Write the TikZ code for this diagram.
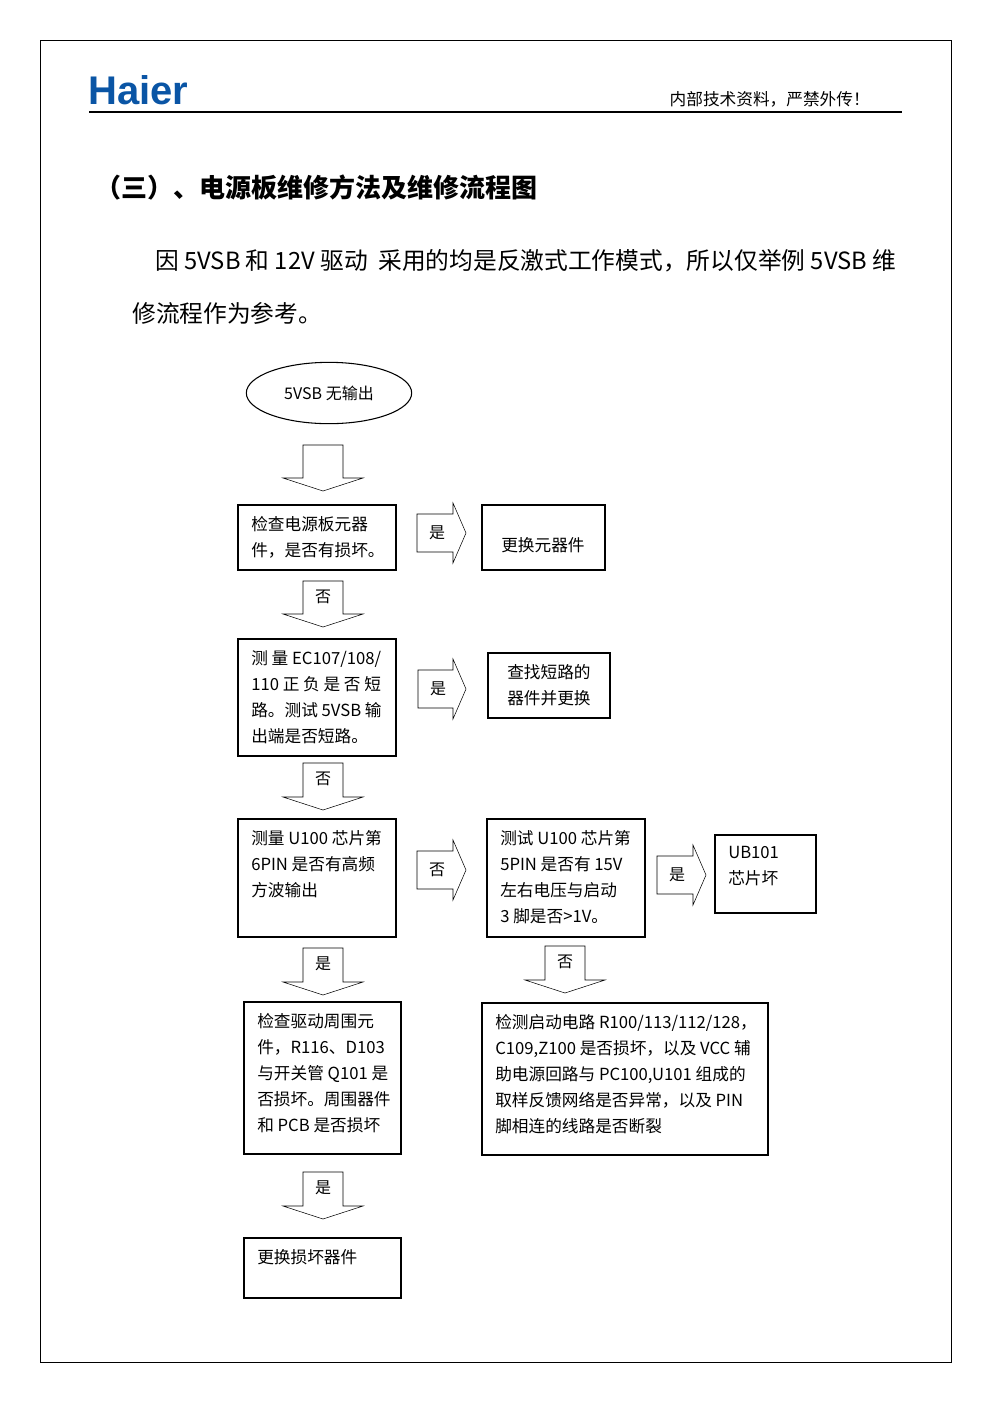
\documentclass[tikz,border=0pt]{standalone}
\usepackage{fontspec}
\setmainfont{Noto Sans CJK SC}
\newfontfamily\logofont{Liberation Sans}
\usetikzlibrary{shapes.geometric}
\definecolor{haierblue}{RGB}{10,85,165}
\tikzset{
  box/.style={draw, thick, anchor=north west, inner sep=0pt},
  txt/.style={anchor=north west, align=left, font=\fontsize{12.5}{19.5}\selectfont, inner sep=0pt},
  fat/.style={draw, fill=white},
  lab/.style={font=\fontsize{12}{14}\selectfont, inner sep=0pt}
}
% fat down arrow: name, x centre, y top, y bottom, label
\newcommand\fatdown[5]{%
  \draw[fat] (#2-20,#3) -- (#2+20,#3) -- (#2+20,#4-13) -- (#2+40,#4-13) -- (#2,#4)
    -- (#2-40,#4-13) -- (#2-20,#4-13) -- cycle;
  \node[lab] (#1) at (#2,#3+16) {#5};}
% fat right arrow: name, y centre, x left, x right, label
\newcommand\fatright[5]{%
  \draw[fat] (#3,#2-19) -- (#4-13,#2-19) -- (#4-13,#2-30) -- (#4,#2) -- (#4-13,#2+30)
    -- (#4-13,#2+19) -- (#3,#2+19) -- cycle;
  \node[lab] (#1) at (#3+20,#2) {#5};}
\begin{document}
\begin{tikzpicture}[x=0.75pt,y=-0.75pt]
\useasboundingbox (0,0) rectangle (993,1404);
% page frame and header
\draw (40,40) rectangle (951,1362);
\node[anchor=west, text=haierblue, font=\logofont\bfseries\fontsize{30}{30}\selectfont, inner sep=0pt] (logo) at (88,90) {Haier};
\draw[thick] (89,112) -- (902,112);
\node[anchor=east, font=\fontsize{12.5}{13}\selectfont, inner sep=0pt] (hdr) at (870,99) {内部技术资料，严禁外传！};
\node[anchor=west, font=\bfseries\fontsize{19.5}{22}\selectfont, inner sep=0pt] (title) at (95,187) {（三）、电源板维修方法及维修流程图};
\node[anchor=west, font=\fontsize{17.8}{20}\selectfont, inner sep=0pt] (p1) at (155,261) {因 5VSB 和 12V 驱动 \ 采用的均是反激式工作模式，所以仅举例 5VSB 维};
\node[anchor=west, font=\fontsize{17.8}{20}\selectfont, inner sep=0pt] (p2) at (132,313) {修流程作为参考。};

% start
\node[draw, thick, ellipse, minimum width=124pt, minimum height=46pt, font=\fontsize{12}{14}\selectfont] (start) at (329,393) {5VSB 无输出};
\fatdown{a0}{323}{445}{491}{}

% left column
\draw[box] (238,505) rectangle (396,570);
\node[txt] (b1) at (251,516) {检查电源板元器\\件，是否有损坏。};
\fatdown{a1}{323}{581}{627}{否}
\draw[box] (238,639) rectangle (396,756);
\node[txt] (b2) at (251,650) {测 量 EC107/108/\\110 正 负 是 否 短\\路。测试 5VSB 输\\出端是否短路。};
\fatdown{a2}{323}{763}{810}{否}
\draw[box] (238,819) rectangle (396,937);
\node[txt] (b3) at (251,830) {测量 U100 芯片第\\6PIN 是否有高频\\方波输出};
\fatdown{a3}{323}{948}{995}{是}
\draw[box] (244,1002) rectangle (401,1154);
\node[txt] (b4) at (257,1013) {检查驱动周围元\\件，R116、D103\\与开关管 Q101 是\\否损坏。周围器件\\和 PCB 是否损坏};
\fatdown{a4}{323}{1172}{1219}{是}
\draw[box] (244,1238) rectangle (401,1298);
\node[txt] (b5) at (257,1249) {更换损坏器件};

% right column
\fatright{h1}{533}{417}{466}{是}
\draw[box] (482,505) rectangle (605,570);
\node[txt] (r1) at (501,537) {更换元器件};
\fatright{h2}{689}{418}{466}{是}
\draw[box] (488,653) rectangle (610,718);
\node[txt] (r2) at (507,664) {查找短路的\\器件并更换};
\fatright{h3}{870}{417}{466}{否}
\draw[box] (487,819) rectangle (645,937);
\node[txt] (r3) at (500,830) {测试 U100 芯片第\\5PIN 是否有 15V\\左右电压与启动\\3 脚是否>1V。};
\fatright{h4}{875}{657}{706}{是}
\draw[box] (715,835) rectangle (816,913);
\node[txt] (r4) at (728,846) {UB101\\芯片坏};
\fatdown{a5}{565}{946}{993}{否}
\draw[box] (482,1003) rectangle (768,1155);
\node[txt] (r5) at (495,1014) {检测启动电路 R100/113/112/128，\\C109,Z100 是否损坏，以及 VCC 辅\\助电源回路与 PC100,U101 组成的\\取样反馈网络是否异常，以及 PIN\\脚相连的线路是否断裂};
\end{tikzpicture}
\end{document}
